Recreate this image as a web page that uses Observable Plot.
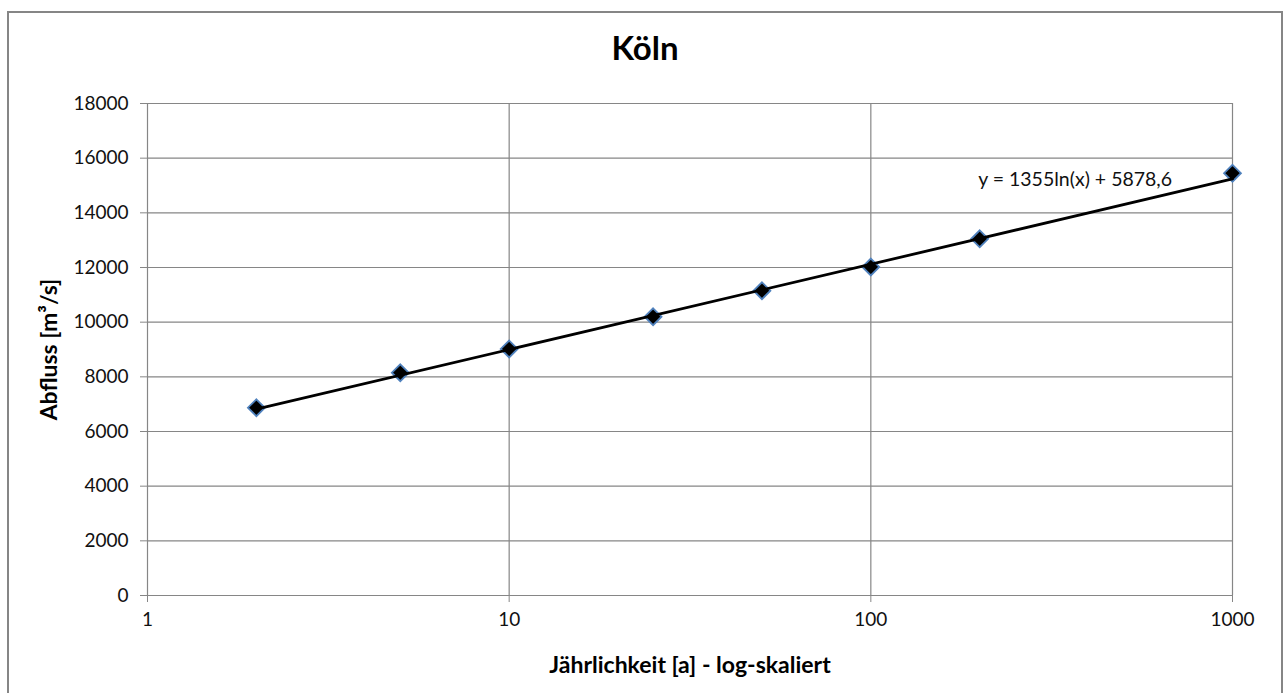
<!DOCTYPE html>
<html>
<head>
<meta charset="utf-8">
<script src="https://cdn.jsdelivr.net/npm/d3@7"></script>
<script src="https://cdn.jsdelivr.net/npm/@observablehq/plot@0.6"></script>
<style>
  html, body { margin: 0; padding: 0; background: #fff; }
  body { width: 1284px; height: 693px; overflow: hidden; position: relative; font-family: Lato, "Open Sans", sans-serif; }
  #frame { position: absolute; left: 7px; top: 11px; width: 1272px; height: 720px; border: 2px solid #868686; pointer-events: none; }
  #chart { position: absolute; left: 0; top: 0; width: 1284px; }
  #title { height: 70px; box-sizing: border-box; padding-top: 27px; padding-left: 6px; text-align: center; font-family: Lato, sans-serif; font-weight: bold; font-size: 33px; line-height: 40px; color: #000; }
  #plot svg { display: block; }
</style>
</head>
<body>
<div id="chart">
  <div id="title">Köln</div>
  <div id="plot"></div>
</div>
<div id="frame"></div>
<script>
// Data
const years = [2, 5, 10, 25, 50, 100, 200, 1000];
const discharge = [6870, 8150, 9020, 10200, 11150, 12020, 13050, 15450];
// Logarithmic trendline (as drawn), endpoints
const trendYears = [2, 1000];
const trendValues = [6818, 15240];
const xTicks = [1, 10, 100, 1000];
const yTicks = [0, 2000, 4000, 6000, 8000, 10000, 12000, 14000, 16000, 18000];
const eqText = ["y = 1355ln(x) + 5878,6"];
const eqPos = [{x: 198, y: 15200}];

const points = years.map((x, i) => ({x, y: discharge[i]}));
const trend = trendYears.map((x, i) => ({x, y: trendValues[i]}));
const eq = eqPos.map((p, i) => ({...p, text: eqText[i]}));

const grid = "#868686";

const chart = Plot.plot({
  width: 1284,
  height: 623,
  marginTop: 33,
  marginLeft: 147,
  marginRight: 52,
  marginBottom: 98,
  style: {fontFamily: "Lato, sans-serif", fontSize: "19px", color: "#111", background: "#fff"},
  x: {type: "log", domain: [1, 1000], ticks: xTicks, tickFormat: d => String(d)},
  y: {domain: [0, 18000], ticks: yTicks, tickFormat: d => String(d)},
  marks: [
    Plot.gridY(yTicks, {stroke: grid, strokeOpacity: 1, strokeWidth: 1.2}),
    Plot.gridX(xTicks, {stroke: grid, strokeOpacity: 1, strokeWidth: 1.2}),
    Plot.axisX({ticks: xTicks, tickFormat: d => String(d), tickSize: 7, tickPadding: 10, stroke: grid, fontSize: 19,
      label: null}),
    Plot.axisY({ticks: yTicks, tickFormat: d => String(d), tickSize: 7, tickPadding: 12, stroke: grid, fontSize: 19,
      label: null}),
    Plot.axisX({ticks: [], label: "Jährlichkeit [a] - log-skaliert", labelAnchor: "center", labelOffset: 77,
      labelArrow: "none", fontSize: 23, fontWeight: "bold", fill: "#000"}),
    Plot.axisY({ticks: [], label: "Abfluss [m³/s]", labelAnchor: "center", labelOffset: 107,
      labelArrow: "none", fontSize: 23, fontWeight: "bold", fill: "#000"}),
    Plot.dot(points, {x: "x", y: "y", symbol: "diamond2", r: 7.6, fill: "#000", stroke: "#4f81bd", strokeWidth: 1.8}),
    Plot.line(trend, {x: "x", y: "y", stroke: "#000", strokeWidth: 2.8}),
    Plot.text(eq, {x: "x", y: "y", text: "text", textAnchor: "start", fontSize: 19.5, fill: "#111"})
  ]
});
document.getElementById("plot").appendChild(chart);
</script>
</body>
</html>
